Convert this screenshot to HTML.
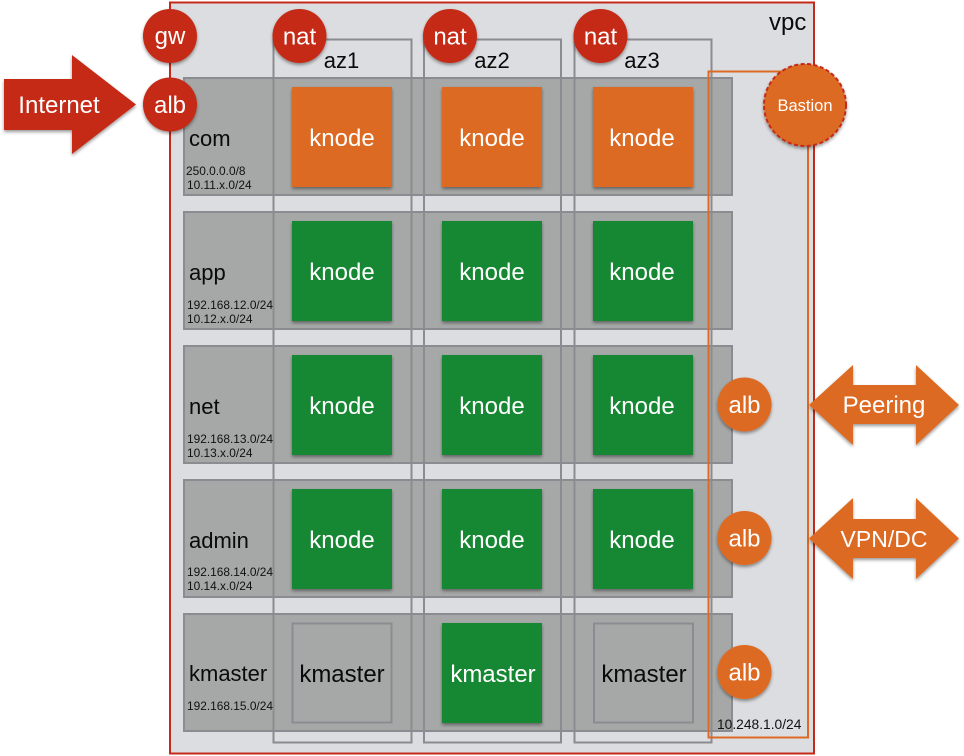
<!DOCTYPE html>
<html>
<head>
<meta charset="utf-8">
<style>
html,body{margin:0;padding:0;background:#fff;width:964px;height:756px;overflow:hidden}
svg{display:block}
text{font-family:"Liberation Sans",sans-serif}
.w{fill:#fff;font-size:24px;text-anchor:middle}
.b{fill:#0a0a0a;font-size:24px;text-anchor:middle}
.l{fill:#0a0a0a;font-size:22px}
.s{fill:#111;font-size:11.9px}
.row{fill:#a5a8a7;stroke:#8b8c91;stroke-width:2}
.az{fill:none;stroke:#8b8c91;stroke-width:2}
.red{fill:#c42a19}
.or{fill:#dd6a24}
.gr{fill:#128732}
</style>
</head>
<body>
<svg width="964" height="756" viewBox="0 0 964 756" xmlns="http://www.w3.org/2000/svg">
<defs>
<filter id="sh" x="-20%" y="-20%" width="140%" height="140%">
<feDropShadow dx="0" dy="2" stdDeviation="1.6" flood-color="#000" flood-opacity="0.4"/>
</filter>
</defs>

<rect x="170" y="2.5" width="644" height="751" fill="#dcddE0" stroke="#c42a19" stroke-width="2"/>
<text x="769" y="30" class="b" style="text-anchor:start;font-size:24px">vpc</text>

<rect class="row" x="184" y="78" width="548" height="117"/>
<rect class="row" x="184" y="212" width="548" height="117"/>
<rect class="row" x="184" y="346" width="548" height="117"/>
<rect class="row" x="184" y="480" width="548" height="117"/>
<rect class="row" x="184" y="614" width="548" height="117"/>

<rect class="az" x="273.500" y="39.500" width="138" height="703"/>
<rect class="az" x="424" y="39.500" width="137" height="703"/>
<rect class="az" x="574.500" y="39.500" width="137" height="703"/>

<text x="341.500" y="68" class="b" style="font-size:22px">az1</text>
<text x="492" y="68" class="b" style="font-size:22px">az2</text>
<text x="642" y="68" class="b" style="font-size:22px">az3</text>

<g filter="url(#sh)">
<rect class="or" x="292" y="87" width="100" height="100"/>
<rect class="or" x="442" y="87" width="100" height="100"/>
<rect class="or" x="593" y="87" width="100" height="100"/>
<rect class="gr" x="292" y="221" width="100" height="100"/>
<rect class="gr" x="442" y="221" width="100" height="100"/>
<rect class="gr" x="593" y="221" width="100" height="100"/>
<rect class="gr" x="292" y="355" width="100" height="100"/>
<rect class="gr" x="442" y="355" width="100" height="100"/>
<rect class="gr" x="593" y="355" width="100" height="100"/>
<rect class="gr" x="292" y="489" width="100" height="100"/>
<rect class="gr" x="442" y="489" width="100" height="100"/>
<rect class="gr" x="593" y="489" width="100" height="100"/>
<rect class="gr" x="442" y="623" width="100" height="100"/>
</g>
<rect x="292.500" y="623.500" width="99" height="99" fill="none" stroke="#8b8c91" stroke-width="2"/>
<rect x="594" y="623.500" width="99" height="99" fill="none" stroke="#8b8c91" stroke-width="2"/>

<text x="342" y="146" class="w">knode</text>
<text x="492" y="146" class="w">knode</text>
<text x="642" y="146" class="w">knode</text>
<text x="342" y="280" class="w">knode</text>
<text x="492" y="280" class="w">knode</text>
<text x="642" y="280" class="w">knode</text>
<text x="342" y="414" class="w">knode</text>
<text x="492" y="414" class="w">knode</text>
<text x="642" y="414" class="w">knode</text>
<text x="342" y="548" class="w">knode</text>
<text x="492" y="548" class="w">knode</text>
<text x="642" y="548" class="w">knode</text>
<text x="342" y="682" class="b">kmaster</text>
<text x="493" y="682" class="w">kmaster</text>
<text x="644" y="682" class="b">kmaster</text>

<text x="189" y="146" class="l">com</text>
<text x="189" y="280" class="l">app</text>
<text x="189" y="414" class="l">net</text>
<text x="189" y="548" class="l">admin</text>
<text x="189" y="681" class="l">kmaster</text>

<text x="186" y="175" class="s">250.0.0.0/8</text>
<text x="187" y="189" class="s">10.11.x.0/24</text>
<text x="187" y="309" class="s">192.168.12.0/24</text>
<text x="187" y="323" class="s">10.12.x.0/24</text>
<text x="187" y="443" class="s">192.168.13.0/24</text>
<text x="187" y="457" class="s">10.13.x.0/24</text>
<text x="187" y="576" class="s">192.168.14.0/24</text>
<text x="187" y="590" class="s">10.14.x.0/24</text>
<text x="187" y="710" class="s">192.168.15.0/24</text>

<rect x="708.500" y="71.500" width="99.500" height="666" fill="none" stroke="#dd6a24" stroke-width="2"/>
<text x="717" y="729" class="s" style="font-size:13.800px">10.248.1.0/24</text>

<g filter="url(#sh)">
<circle class="red" cx="170" cy="36" r="27"/>
<circle class="red" cx="170" cy="104.500" r="27"/>
<circle class="red" cx="299.500" cy="36" r="27"/>
<circle class="red" cx="450" cy="36" r="27"/>
<circle class="red" cx="600.500" cy="36" r="27"/>
<polygon class="red" points="4,79 72,79 72,55 136,104.500 72,154 72,130 4,130"/>
<circle class="or" cx="805" cy="105" r="41" stroke="#c42a19" stroke-width="2" stroke-dasharray="4 2.500"/>
<circle class="or" cx="744.500" cy="404.500" r="27"/>
<circle class="or" cx="744.500" cy="538" r="27"/>
<circle class="or" cx="744.500" cy="672" r="27"/>
<polygon class="or" points="809,405 853,365 853,385 916,385 916,365 959,405 916,445 916,424 853,424 853,445"/>
<polygon class="or" points="809,538.500 853,498 853,519 916,519 916,498 959,538.500 916,579 916,558 853,558 853,579"/>
</g>

<text x="170" y="44" class="w">gw</text>
<text x="170" y="113" class="w">alb</text>
<text x="299.500" y="44.500" class="w">nat</text>
<text x="450" y="44.500" class="w">nat</text>
<text x="600.500" y="44.500" class="w">nat</text>
<text x="59" y="113" class="w">Internet</text>
<text x="805" y="111" class="w" style="font-size:16.500px">Bastion</text>
<text x="744.500" y="413" class="w">alb</text>
<text x="744.500" y="546.500" class="w">alb</text>
<text x="744.500" y="680.500" class="w">alb</text>
<text x="884" y="413" class="w">Peering</text>
<text x="884" y="547" class="w" style="font-size:23px">VPN/DC</text>
</svg>
</body>
</html>
